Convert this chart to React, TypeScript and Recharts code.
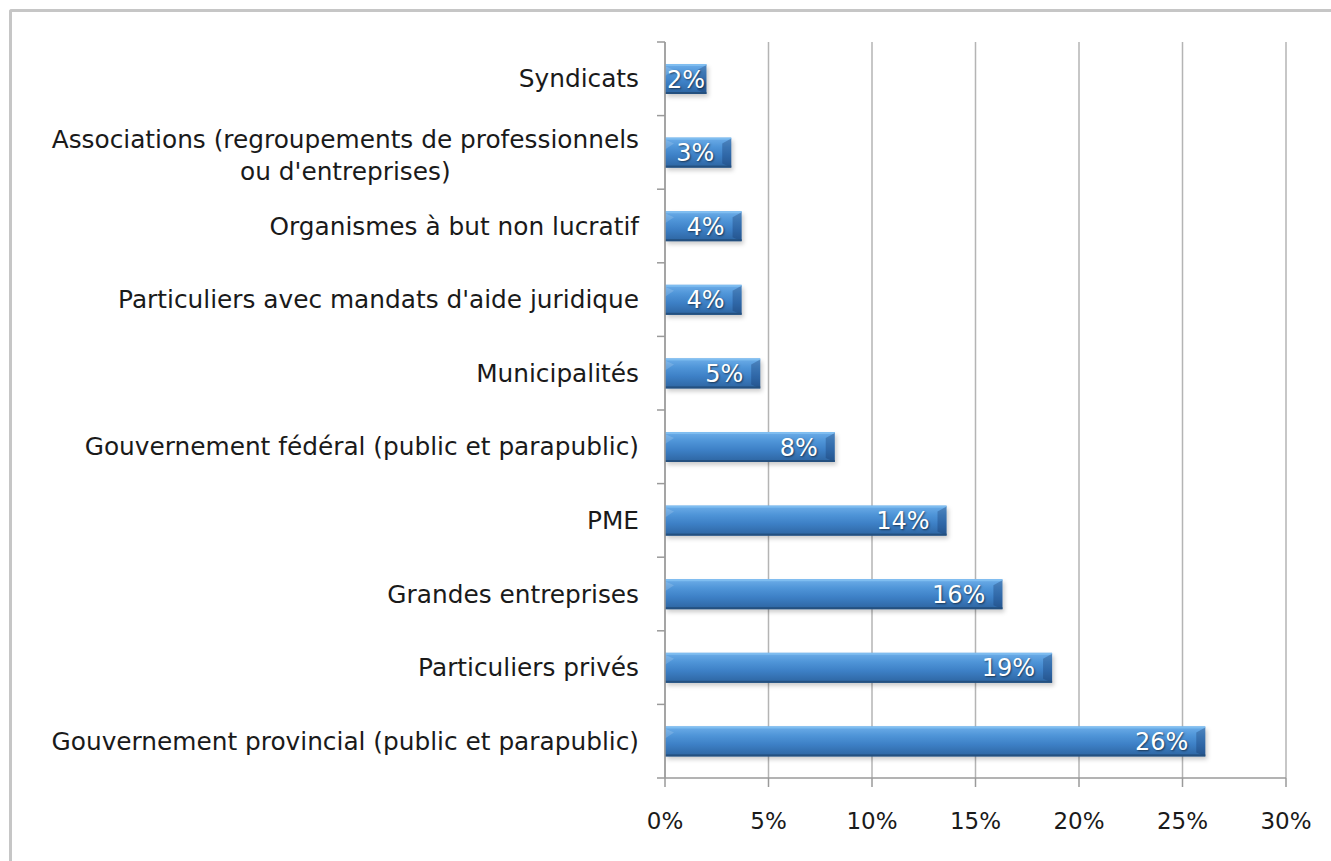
import React from "react";
import {
  BarChart,
  Bar,
  XAxis,
  YAxis,
  CartesianGrid,
  LabelList,
} from "recharts";

const categories = [
  "Syndicats",
  "Associations (regroupements de professionnels\nou d'entreprises)",
  "Organismes à but non lucratif",
  "Particuliers avec mandats d'aide juridique",
  "Municipalités",
  "Gouvernement fédéral (public et parapublic)",
  "PME",
  "Grandes entreprises",
  "Particuliers privés",
  "Gouvernement provincial (public et parapublic)",
];

const shares = [2.0, 3.2, 3.7, 3.7, 4.6, 8.2, 13.6, 16.3, 18.7, 26.1];

const xTicks = [0, 5, 10, 15, 20, 25, 30];
const boundaryTicks = [0, 1, 2, 3, 4, 5, 6, 7, 8, 9, 10];

const data = categories.map((name, i) => ({ name, share: shares[i], slot: i + 0.5 }));

const FONT = "'DejaVu Sans', Verdana, sans-serif";
const LABEL_SIZE = 24.8;

let measureCtx: CanvasRenderingContext2D | null = null;
function textWidth(s: string, size: number) {
  if (!measureCtx) {
    const c = document.createElement("canvas");
    measureCtx = c.getContext("2d");
  }
  if (!measureCtx) return s.length * size * 0.58;
  measureCtx.font = `${size}px ${FONT}`;
  return measureCtx.measureText(s).width;
}

const CategoryTick = (props: any) => {
  const { x, y, payload } = props;
  const lines = String(payload.value).split("\n");
  if (lines.length === 1) {
    return (
      <text x={x} y={y} dy="0.35em" textAnchor="end" fontSize={LABEL_SIZE} fontFamily={FONT} fill="#1a1a1a">
        {lines[0]}
      </text>
    );
  }
  // multi-line: block right aligned, lines centred inside it
  const w = Math.max(...lines.map((l) => textWidth(l, LABEL_SIZE)));
  const cx = x - w / 2;
  const lh = 32;
  const top = y - ((lines.length - 1) * lh) / 2 + 3;
  return (
    <text textAnchor="middle" fontSize={LABEL_SIZE} fontFamily={FONT} fill="#1a1a1a">
      {lines.map((l, i) => (
        <tspan key={i} x={cx} y={top + i * lh} dy="0.35em">
          {l}
        </tspan>
      ))}
    </text>
  );
};

const EmptyTick = () => <g />;

const GlossyBar = (props: any) => {
  const { x, y, width, height } = props;
  if (!width || width <= 0) return null;
  const b = Math.min(9, width / 3);
  return (
    <g>
      <rect x={x + 2} y={y + 3} width={width} height={height} fill="rgba(0,0,0,0.2)" filter="url(#barShadow)" />
      <rect x={x} y={y} width={width} height={height} fill="url(#barGrad)" />
      <rect x={x} y={y} width={width} height={2} fill="#7fbdf0" />
      <polygon points={`${x},${y + 2} ${x + b},${y + 6} ${x},${y + 12}`} fill="rgba(255,255,255,0.15)" />
      <polygon
        points={`${x + width},${y + 1} ${x + width - b},${y + 6} ${x + width - b},${y + height - 4} ${x + width},${y + height}`}
        fill="rgba(15,45,95,0.3)"
      />
      <rect x={x} y={y + height - 2} width={width} height={2} fill="#24507f" />
    </g>
  );
};

const ValueLabel = (props: any) => {
  const { x, y, width, height, value } = props;
  const txt = `${Math.round(value)}%`;
  const tw = textWidth(txt, 24);
  const end = Math.max(x + width - 17, x + tw + 2);
  return (
    <text
      x={end}
      y={y + height / 2}
      dy="0.36em"
      textAnchor="end"
      fontSize={24}
      fontFamily={FONT}
      fill="#ffffff"
      style={{ textShadow: "1px 1px 2px rgba(0,0,0,0.55)" }}
    >
      {txt}
    </text>
  );
};

export default function App() {
  return (
    <div style={{ position: "absolute", left: 0, top: 0, width: 1331, height: 861, background: "#fff", overflow: "hidden" }}>
      <div
        style={{
          position: "absolute",
          left: 9,
          top: 9,
          width: 1400,
          height: 900,
          borderTop: "3px solid #c6c6c6",
          borderLeft: "3px solid #c6c6c6",
          borderTopLeftRadius: 3,
        }}
      />
      <div style={{ position: "absolute", left: 0, top: 0 }}>
        <BarChart
          width={1331}
          height={861}
          data={data}
          layout="vertical"
          margin={{ top: 42, right: 45, left: 10, bottom: 0 }}
        >
          <defs>
            <linearGradient id="barGrad" x1="0" y1="0" x2="0" y2="1">
              <stop offset="0%" stopColor="#6eaee9" />
              <stop offset="30%" stopColor="#4f95d8" />
              <stop offset="60%" stopColor="#3d80c6" />
              <stop offset="100%" stopColor="#2d64a0" />
            </linearGradient>
            <filter id="barShadow" x="-10%" y="-30%" width="130%" height="180%">
              <feGaussianBlur stdDeviation="2" />
            </filter>
          </defs>
          <CartesianGrid horizontal={false} stroke="#b4b4b4" strokeWidth={1.5} yAxisId="cat" />
          <XAxis
            type="number"
            domain={[0, 30]}
            ticks={xTicks}
            tickFormatter={(v) => `${v}%`}
            height={83}
            tickSize={9}
            tickMargin={26}
            axisLine={{ stroke: "#9a9a9a", strokeWidth: 1.5 }}
            tickLine={{ stroke: "#9a9a9a", strokeWidth: 1.5 }}
            tick={{ fontSize: 23, fontFamily: FONT, fill: "#1a1a1a" }}
          />
          <YAxis
            yAxisId="cat"
            type="category"
            dataKey="name"
            width={654}
            axisLine={false}
            tickLine={false}
            tickSize={0}
            tickMargin={25}
            interval={0}
            tick={<CategoryTick />}
          />
          <YAxis
            yAxisId="bounds"
            type="number"
            dataKey="slot"
            domain={[0, 10]}
            ticks={boundaryTicks}
            interval={0}
            width={1}
            tick={<EmptyTick />}
            tickSize={8}
            axisLine={{ stroke: "#9a9a9a", strokeWidth: 1.5 }}
            tickLine={{ stroke: "#9a9a9a", strokeWidth: 1.5 }}
          />
          <Bar yAxisId="cat" dataKey="share" barSize={30} shape={<GlossyBar />} isAnimationActive={false}>
            <LabelList dataKey="share" content={<ValueLabel />} />
          </Bar>
        </BarChart>
      </div>
    </div>
  );
}
